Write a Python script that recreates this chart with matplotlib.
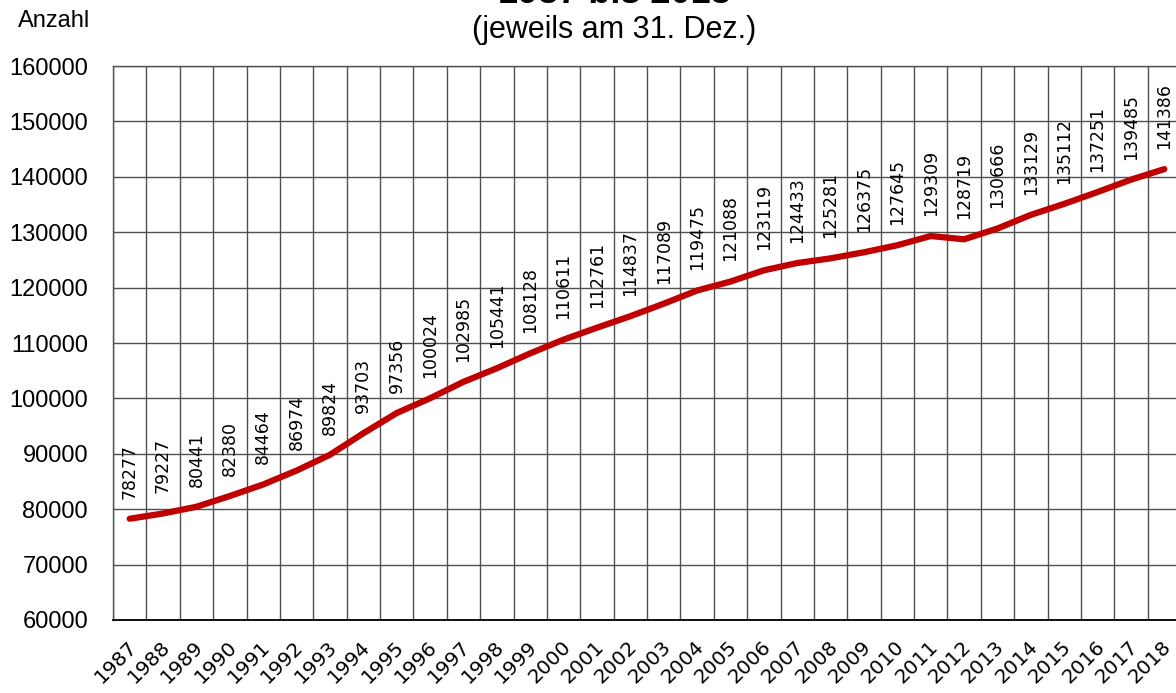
import numpy as np
import matplotlib
matplotlib.use("Agg")
import matplotlib.pyplot as plt
import matplotlib.transforms as mtransforms


''' Data '''
years = [str(y) for y in range(1987, 2019)]
values = [78277, 79227, 80441, 82380, 84464, 86974, 89824, 93703, 97356, 100024,
          102985, 105441, 108128, 110611, 112761, 114837, 117089, 119475, 121088, 123119,
          124433, 125281, 126375, 127645, 129309, 128719, 130666, 133129, 135112, 137251,
          139485, 141386]
y_ticks = list(range(60000, 160001, 10000))

title_line1 = "1987 bis 2018"
title_line2 = "(jeweils am 31. Dez.)"
y_label = "Anzahl"


''' Figure '''
W, H = 1176, 693
fig = plt.figure(figsize=(W / 100, H / 100), dpi=100)
ax = fig.add_axes([113 / W, 73 / H, 1068 / W, 554 / H])

x = np.arange(len(years))
ax.plot(x, values, color="#C00000", linewidth=4.5, solid_capstyle="round",
        solid_joinstyle="round", zorder=3)

for xi, v in zip(x, values):
    ax.annotate(str(v), (xi, v), xytext=(0, 14.5), textcoords="offset points",
                rotation=90, ha="center", va="bottom", fontsize=12.5,
                family="DejaVu Sans", color="black", zorder=4)

ax.set_xlim(-0.5, len(years) - 0.5)
ax.set_ylim(60000, 160000)

# grid lines between the categories, labels in the middle
ax.set_xticks(x)
ax.set_xticks(np.arange(len(years) + 1) - 0.5, minor=True)
ax.set_yticks(y_ticks)
ax.grid(which="minor", axis="x", color="#505050", linewidth=1.0)
ax.grid(which="major", axis="y", color="#505050", linewidth=1.0)
ax.grid(which="major", axis="x", visible=False)
ax.set_axisbelow(True)

ax.tick_params(axis="both", which="both", length=0)
ax.tick_params(axis="y", pad=18, labelsize=17)
ax.tick_params(axis="x", pad=17)
ax.set_yticklabels([str(t) for t in y_ticks], family="Liberation Sans")
ax.set_xticklabels(years, rotation=45, ha="right", va="center",
                   rotation_mode="anchor", fontsize=14.5, family="DejaVu Sans")
shift = mtransforms.ScaledTranslation(4 / 100, 0, fig.dpi_scale_trans)
for lbl in ax.get_xticklabels():
    lbl.set_transform(lbl.get_transform() + shift)

for side in ["top", "right", "left"]:
    ax.spines[side].set_color("#505050")
    ax.spines[side].set_linewidth(1.0)
ax.spines["bottom"].set_color("black")
ax.spines["bottom"].set_linewidth(1.3)

fig.text(614 / W, 1 - 3 / H, title_line1, ha="center", va="baseline",
         fontsize=26, fontweight="bold", family="Liberation Sans")
fig.text(614 / W, 1 - 38 / H, title_line2, ha="center", va="baseline",
         fontsize=22, family="Liberation Sans")
fig.text(18 / W, 1 - 27 / H, y_label, ha="left", va="baseline",
         fontsize=17, family="Liberation Sans")

fig.savefig("out.png", dpi=100)
